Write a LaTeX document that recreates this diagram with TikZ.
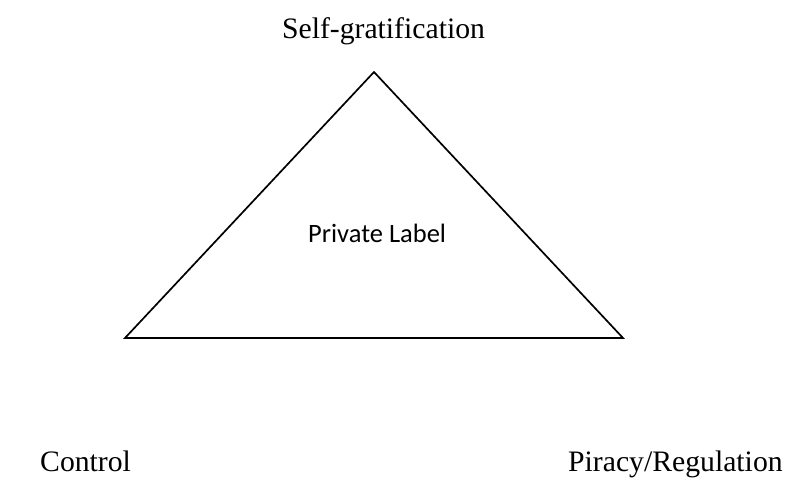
\documentclass[tikz,border=0pt]{standalone}
\usepackage{fontspec}
\setmainfont{Liberation Serif}
\newfontfamily\labfont{Carlito}
\begin{document}
\begin{tikzpicture}[x=1pt,y=-1pt,
  cornerlabel/.style={inner sep=0pt,font=\fontsize{29.7}{34}\selectfont},
  centerlabel/.style={inner sep=0pt,font=\labfont\fontsize{26.5}{30}\selectfont},
  edge/.style={line width=1.7pt,line join=miter}]
\useasboundingbox (0,0) rectangle (786,479);
\fill[white] (0,0) rectangle (786,479);
\coordinate (apex) at (374,72);
\coordinate (bl) at (125,338);
\coordinate (br) at (623,338);
\draw[edge] (apex) -- (br) -- (bl) -- cycle;
\node[cornerlabel,anchor=base] (top) at (383.5,38) {Self-gratification};
\node[centerlabel,anchor=base west] (mid) at (308,242) {Private Label};
\node[cornerlabel,anchor=base west] (ctrl) at (40,471) {Control};
\node[cornerlabel,anchor=base west] (pir) at (568,471) {Piracy/Regulation};
\end{tikzpicture}
\end{document}
